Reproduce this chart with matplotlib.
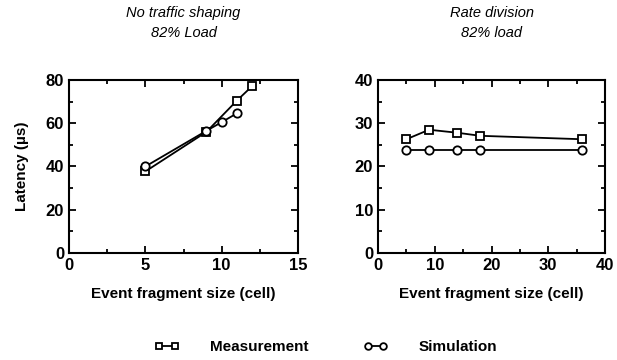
import matplotlib.pyplot as plt
from matplotlib.ticker import MultipleLocator
from matplotlib.lines import Line2D

plt.rcParams['font.family'] = ['Liberation Sans', 'DejaVu Sans']

# left panel: no traffic shaping
meas_x_l = [5, 9, 11, 12]
meas_y_l = [37.7, 56, 70.5, 77.2]
sim_x_l = [5, 9, 10, 11]
sim_y_l = [40, 56.5, 60.5, 64.6]

# right panel: rate division
meas_x_r = [5, 9, 14, 18, 36]
meas_y_r = [26.3, 28.5, 27.8, 27.1, 26.3]
sim_x_r = [5, 9, 14, 18, 36]
sim_y_r = [23.7, 23.7, 23.7, 23.7, 23.7]

titles = [("No traffic shaping", "82% Load"), ("Rate division", "82% load")]

fig = plt.figure(figsize=(6.17, 3.6), dpi=100)
ax1 = fig.add_axes([69/617, 1-253/360, 229/617, 173/360])
ax2 = fig.add_axes([378/617, 1-253/360, 227/617, 173/360])

mkw = dict(color='black', lw=1.3, markerfacecolor='white', markeredgecolor='black',
           markersize=6, markeredgewidth=1.3)

ax1.plot(meas_x_l, meas_y_l, marker='s', **mkw)
ax1.plot(sim_x_l, sim_y_l, marker='o', **mkw)
ax2.plot(meas_x_r, meas_y_r, marker='s', **mkw)
ax2.plot(sim_x_r, sim_y_r, marker='o', **mkw)

ax1.set_xlim(0, 15)
ax1.set_ylim(0, 80)
ax1.xaxis.set_major_locator(MultipleLocator(5))
ax1.xaxis.set_minor_locator(MultipleLocator(2.5))
ax1.yaxis.set_major_locator(MultipleLocator(20))
ax1.yaxis.set_minor_locator(MultipleLocator(10))
ax1.set_ylabel("Latency (\u00b5s)", fontsize=11, fontweight='bold', labelpad=12)

ax2.set_xlim(0, 40)
ax2.set_ylim(0, 40)
ax2.xaxis.set_major_locator(MultipleLocator(10))
ax2.xaxis.set_minor_locator(MultipleLocator(5))
ax2.yaxis.set_major_locator(MultipleLocator(10))
ax2.yaxis.set_minor_locator(MultipleLocator(5))

for ax, (t1, t2) in zip([ax1, ax2], titles):
    cx = (ax.get_position().x0 + ax.get_position().x1) / 2
    fig.text(cx, 1-13/360, t1, fontsize=10.5, style='italic', ha='center', va='center')
    fig.text(cx, 1-33/360, t2, fontsize=10.5, style='italic', ha='center', va='center')
    ax.set_xlabel("Event fragment size (cell)", fontsize=11, fontweight='bold', labelpad=10)
    ax.tick_params(which='both', direction='in', top=True, right=True, width=1.3)
    ax.tick_params(which='major', length=5, labelsize=12)
    ax.tick_params(which='minor', length=3)
    for lab in ax.get_xticklabels() + ax.get_yticklabels():
        lab.set_fontweight('bold')
    for sp in ax.spines.values():
        sp.set_linewidth(1.5)

handles = [Line2D([], [], marker='s', **mkw), Line2D([], [], marker='o', **mkw)]
fig.legend(handles, ["Measurement", "Simulation"], loc='center', ncol=2,
           bbox_to_anchor=(0.528, 1-347/360), frameon=False, markerscale=0.8,
           handlelength=1.6, handletextpad=2.0, columnspacing=3.6, numpoints=2,
           prop={'weight': 'bold', 'size': 11})

fig.savefig("out.png", dpi=100)
